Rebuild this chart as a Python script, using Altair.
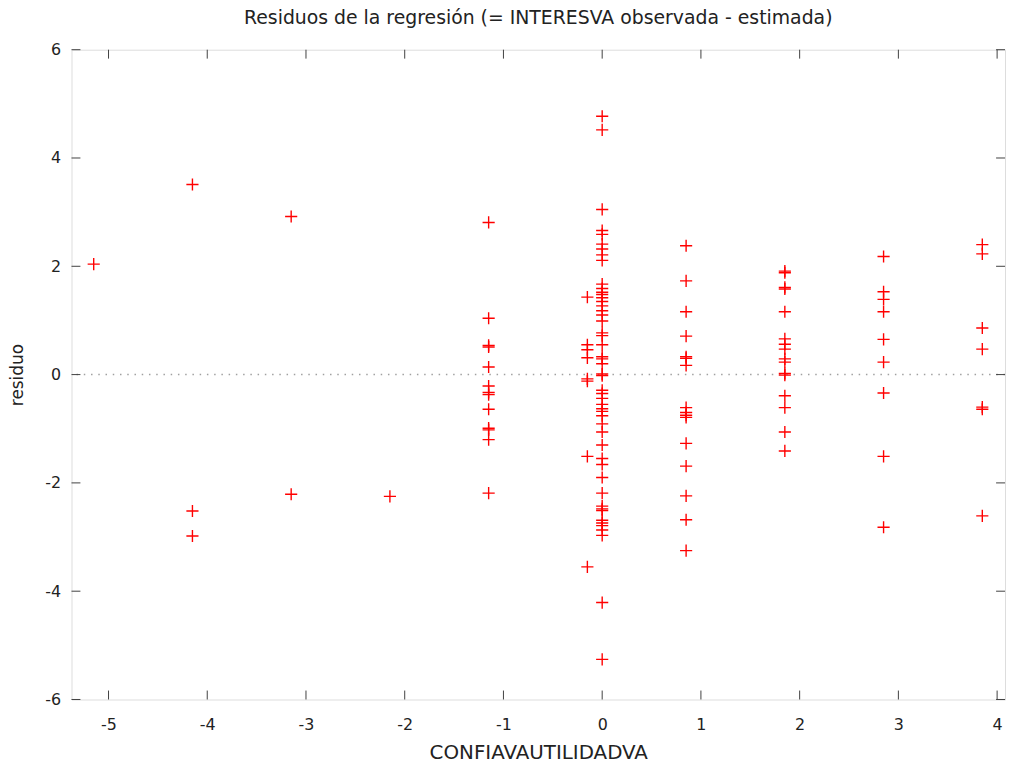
import altair as alt
import pandas as pd

# --- data (x = CONFIAVAUTILIDADVA, y = residuo) ---
col_m515 = [2.04]
col_m415 = [3.51, -2.52, -2.98]
col_m315 = [2.92, -2.21]
col_m215 = [-2.25]
col_m115 = [2.81, 1.04, 0.54, 0.51, 0.14, -0.21, -0.33, -0.37, -0.64, -0.99, -1.02, -1.20, -2.19]
col_m015 = [1.43, 0.55, 0.46, 0.31, -0.08, -0.12, -1.51, -3.55]
col_0 = [4.77, 4.52, 3.05, 2.66, 2.59, 2.41, 2.32, 2.21, 2.11, 1.67, 1.59, 1.52, 1.48,
         1.42, 1.35, 1.27, 1.18, 1.10, 0.99, 0.77, 0.72, 0.55, 0.33, 0.29, 0.20, 0.01,
         -0.02, -0.29, -0.35, -0.44, -0.55, -0.63, -0.68, -0.76, -0.91, -1.06, -1.30,
         -1.55, -1.66, -1.90, -2.19, -2.43, -2.48, -2.51, -2.69, -2.74, -2.79, -2.87,
         -2.97, -4.21, -5.26]
col_085 = [2.38, 1.73, 1.16, 0.71, 0.33, 0.30, 0.17, -0.61, -0.70, -0.75, -0.79, -1.27,
           -1.69, -2.24, -2.68, -3.25]
col_185 = [1.91, 1.88, 1.61, 1.58, 1.16, 0.66, 0.56, 0.47, 0.29, 0.23, 0.02, -0.01,
           -0.39, -0.61, -1.06, -1.41]
col_285 = [2.18, 1.53, 1.39, 1.16, 0.65, 0.23, -0.34, -1.51, -2.82]
col_385 = [2.40, 2.23, 0.86, 0.47, -0.60, -0.64, -2.61]

x_levels = [-5.15, -4.15, -3.15, -2.15, -1.15, -0.15, 0.0, 0.85, 1.85, 2.85, 3.85]
columns = [col_m515, col_m415, col_m315, col_m215, col_m115, col_m015, col_0,
           col_085, col_185, col_285, col_385]

x_ticks = [-5, -4, -3, -2, -1, 0, 1, 2, 3, 4]
y_ticks = [-6, -4, -2, 0, 2, 4, 6]
x_domain = [-5.375, 4.08]
y_domain = [-6, 6]

title_text = "Residuos de la regresión (= INTERESVA observada - estimada)"
x_title = "CONFIAVAUTILIDADVA"
y_title = "residuo"

rows = []
for xv, ys in zip(x_levels, columns):
    for yv in ys:
        rows.append({"x": xv, "y": yv})
df = pd.DataFrame(rows)
xt = pd.DataFrame({"t": x_ticks})
yt = pd.DataFrame({"t": y_ticks})
zero = pd.DataFrame({"y": [0]})

W, H = 941, 655
FONT = "DejaVu Sans"
TXT = "#222222"
BORDER = "#404040"

xs = alt.Scale(domain=x_domain, nice=False, zero=False)
ys = alt.Scale(domain=y_domain, nice=False, zero=False)

plus = "M-1,0L1,0M0,-1L0,1"
label_expr = "'' + datum.value"

points = alt.Chart(df).mark_point(
    shape=plus, size=150, filled=False, stroke="#ff0000", strokeWidth=1.4, opacity=1
).encode(
    x=alt.X("x:Q", scale=xs, axis=alt.Axis(
        values=x_ticks, labelExpr=label_expr, ticks=False, domain=False, grid=False,
        labelFont=FONT, labelFontSize=16, labelColor=TXT, labelPadding=17,
        title=x_title, titleFont=FONT, titleFontSize=20, titleFontWeight="normal",
        titleColor=TXT, titleY=53, titleBaseline="middle")),
    y=alt.Y("y:Q", scale=ys, axis=alt.Axis(
        values=y_ticks, labelExpr=label_expr, ticks=False, domain=False, grid=False,
        labelFont=FONT, labelFontSize=16, labelColor=TXT, labelPadding=11,
        title=y_title, titleFont=FONT, titleFontSize=17, titleFontWeight="normal",
        titleColor=TXT, titleX=-54, titleBaseline="middle")),
)

zero_line = alt.Chart(zero).mark_rule(
    color="#a0a0a0", strokeWidth=1.5, strokeDash=[1.5, 5.8]
).encode(y=alt.Y("y:Q", scale=ys))

tick_style = dict(color=BORDER, strokeWidth=1)
bottom_ticks = alt.Chart(xt).mark_rule(**tick_style).encode(
    x=alt.X("t:Q", scale=xs), y=alt.value(H), y2=alt.value(H - 9))
top_ticks = alt.Chart(xt).mark_rule(**tick_style).encode(
    x=alt.X("t:Q", scale=xs), y=alt.value(0), y2=alt.value(9))
left_ticks = alt.Chart(yt).mark_rule(**tick_style).encode(
    y=alt.Y("t:Q", scale=ys), x=alt.value(0), x2=alt.value(9))
right_ticks = alt.Chart(yt).mark_rule(**tick_style).encode(
    y=alt.Y("t:Q", scale=ys), x=alt.value(W), x2=alt.value(W - 9))

chart = alt.layer(
    zero_line, bottom_ticks, top_ticks, left_ticks, right_ticks, points
).properties(
    width=W, height=H,
    title=alt.TitleParams(title_text, font=FONT, fontSize=19, fontWeight="normal",
                          color=TXT, anchor="middle", offset=14),
    autosize=alt.AutoSizeParams(type="none"),
    padding={"left": 64, "top": 39, "right": 2, "bottom": 62},
).configure_view(
    stroke=BORDER, strokeWidth=1
).configure(background="white")

chart.save("out.html", embed_options={"renderer": "svg", "actions": False})
